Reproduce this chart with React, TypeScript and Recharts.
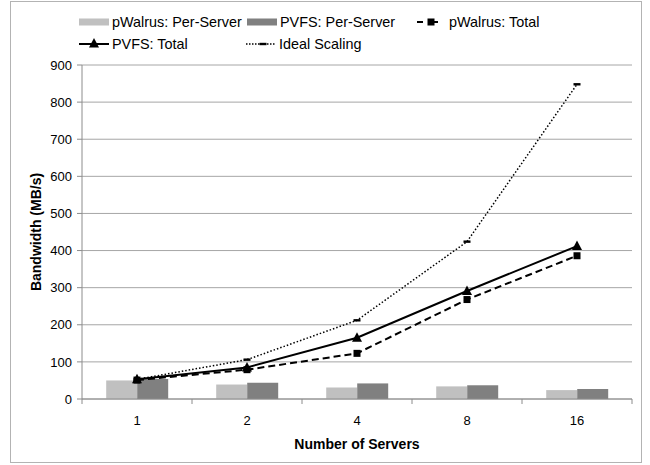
import React from 'react'
import { ComposedChart, Bar, Line, XAxis, YAxis, CartesianGrid } from 'recharts'

const servers = ['1', '2', '4', '8', '16']
const pwalrusPerServer = [50, 39, 31, 34, 24]
const pvfsPerServer = [54, 44, 42, 37, 27]
const pwalrusTotal = [51, 79, 123, 268, 386]
const pvfsTotal = [53, 85, 165, 291, 412]
const idealScaling = [53, 106, 212, 424, 848]
const yTicks = [0, 100, 200, 300, 400, 500, 600, 700, 800, 900]

const data = servers.map((s, i) => ({
  servers: s,
  pwalrusPer: pwalrusPerServer[i],
  pvfsPer: pvfsPerServer[i],
  pwalrusTotal: pwalrusTotal[i],
  pvfsTotal: pvfsTotal[i],
  ideal: idealScaling[i],
}))

const FONT = '"Liberation Sans", Arial, sans-serif'
const LIGHT = '#c0c0c0'
const DARK = '#808080'
const AXIS = '#8c8c8c'
const GRID = '#a6a6a6'

const SquareDot = ({ cx, cy }: any) => <rect x={cx - 3.5} y={cy - 3.5} width={7} height={7} fill='#000' />
const TriangleDot = ({ cx, cy }: any) => <path d={`M${cx},${cy - 5.5} L${cx + 5},${cy + 4} L${cx - 5},${cy + 4} Z`} fill='#000' />
const DashDot = ({ cx, cy }: any) => <rect x={cx - 3.5} y={cy - 1.2} width={7} height={2.4} fill='#000' />

function XTick({ x, y, payload, index }: any) {
  const half = 55
  return (
    <g>
      <text x={x} y={y + 26} textAnchor='middle' fontSize={13} fill='#000' fontFamily={FONT}>{payload.value}</text>
      <line x1={x - half} x2={x - half} y1={y} y2={y + 5} stroke={AXIS} />
      {index === servers.length - 1 && <line x1={x + half} x2={x + half} y1={y} y2={y + 5} stroke={AXIS} />}
    </g>
  )
}

function LegendSymbol({ kind }: { kind: string }) {
  return (
    <svg width={30} height={14} style={{ display: 'block' }}>
      {kind === 'light' && <rect x={0} y={3.5} width={30} height={7} fill={LIGHT} />}
      {kind === 'dark' && <rect x={0} y={3.5} width={30} height={7} fill={DARK} />}
      {kind === 'pwalrus' && (
        <g>
          <line x1={1} x2={29} y1={7} y2={7} stroke='#000' strokeWidth={2} strokeDasharray='6 9' />
          <rect x={11.5} y={3.5} width={7} height={7} fill='#000' />
        </g>
      )}
      {kind === 'pvfs' && (
        <g>
          <line x1={0} x2={30} y1={7} y2={7} stroke='#000' strokeWidth={2} />
          <TriangleDot cx={15} cy={6.5} />
        </g>
      )}
      {kind === 'ideal' && (
        <g>
          <line x1={0} x2={30} y1={7} y2={7} stroke='#000' strokeWidth={1.3} strokeDasharray='1.5 1.5' />
          <DashDot cx={17} cy={7} />
        </g>
      )}
    </svg>
  )
}

const legendItems = [
  { kind: 'light', label: 'pWalrus: Per-Server', left: 79, top: 22 },
  { kind: 'dark', label: 'PVFS: Per-Server', left: 247, top: 22 },
  { kind: 'pwalrus', label: 'pWalrus: Total', left: 416, top: 22 },
  { kind: 'pvfs', label: 'PVFS: Total', left: 79, top: 44 },
  { kind: 'ideal', label: 'Ideal Scaling', left: 246, top: 44 },
]

export default function App() {
  return (
    <div style={{ position: 'absolute', left: 0, top: 0, width: 650, height: 465, background: '#fff', fontFamily: FONT }}>
      <div style={{ position: 'absolute', left: 10, top: 1, width: 632, height: 462, border: '1px solid #b3b3b3', boxSizing: 'border-box' }} />
      {legendItems.map((it) => (
        <div key={it.label} style={{ position: 'absolute', left: it.left, top: it.top - 9, height: 18, display: 'flex', alignItems: 'center', fontSize: 14.4, whiteSpace: 'nowrap' }}>
          <LegendSymbol kind={it.kind} />
          <span style={{ marginLeft: 3 }}>{it.label}</span>
        </div>
      ))}
      <ComposedChart width={650} height={465} data={data} margin={{ top: 65, right: 18, left: 0, bottom: 0 }} barCategoryGap='22%' barGap={0} style={{ position: 'absolute', left: 0, top: 0 }}>
        <CartesianGrid horizontal vertical={false} stroke={GRID} />
        <XAxis dataKey='servers' height={66} tickLine={false} tickSize={0} tickMargin={0} axisLine={{ stroke: AXIS }} tick={<XTick />} interval={0}
          label={() => <text x={357} y={449} textAnchor='middle' fontSize={14} fontWeight='bold' fontFamily={FONT}>Number of Servers</text>} />
        <YAxis width={82} domain={[0, 900]} ticks={yTicks} interval={0} axisLine={{ stroke: AXIS }} tickLine={{ stroke: AXIS }} tickSize={5} tickMargin={5}
          tick={{ fontSize: 13, fill: '#000', fontFamily: FONT }}
          label={() => <text x={41} y={232} transform='rotate(-90, 41, 232)' textAnchor='middle' fontSize={14} fontWeight='bold' fontFamily={FONT}>Bandwidth (MB/s)</text>} />
        <Bar dataKey='pwalrusPer' fill={LIGHT} isAnimationActive={false} />
        <Bar dataKey='pvfsPer' fill={DARK} isAnimationActive={false} />
        <Line dataKey='pwalrusTotal' type='linear' stroke='#000' strokeWidth={2} strokeDasharray='7 4' dot={<SquareDot />} activeDot={false} isAnimationActive={false} />
        <Line dataKey='pvfsTotal' type='linear' stroke='#000' strokeWidth={2} dot={<TriangleDot />} activeDot={false} isAnimationActive={false} />
        <Line dataKey='ideal' type='linear' stroke='#000' strokeWidth={1.5} strokeDasharray='1.5 2' dot={<DashDot />} activeDot={false} isAnimationActive={false} />
      </ComposedChart>
    </div>
  )
}
